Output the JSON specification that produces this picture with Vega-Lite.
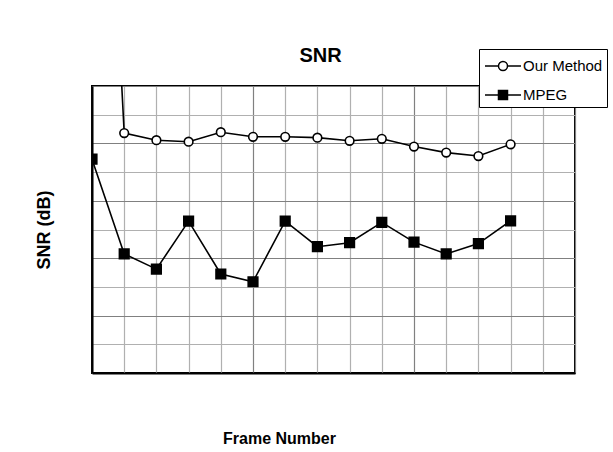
{
  "$schema": "https://vega.github.io/schema/vega-lite/v6.json",
  "width": 483,
  "height": 287,
  "autosize": "none",
  "padding": {"left": 92, "top": 86, "right": 38, "bottom": 79},
  "background": "white",
  "title": {
    "text": "SNR",
    "font": "Liberation Sans",
    "fontSize": 20,
    "fontWeight": "bold",
    "color": "black",
    "anchor": "middle",
    "frame": "group",
    "dx": -13,
    "offset": -17
  },
  "config": {
    "view": {"stroke": "black", "strokeWidth": 2},
    "axis": {
      "domainColor": "black",
      "domainWidth": 2,
      "labels": false,
      "ticks": false,
      "titleColor": "black",
      "titleFont": "Liberation Sans",
      "titleFontWeight": "bold"
    }
  },
  "data": {
    "values": [
      {"frame": 0, "series": "Our Method", "snr": 30},
      {"frame": 1, "series": "Our Method", "snr": 8.36},
      {"frame": 2, "series": "Our Method", "snr": 8.11},
      {"frame": 3, "series": "Our Method", "snr": 8.06},
      {"frame": 4, "series": "Our Method", "snr": 8.39},
      {"frame": 5, "series": "Our Method", "snr": 8.23},
      {"frame": 6, "series": "Our Method", "snr": 8.23},
      {"frame": 7, "series": "Our Method", "snr": 8.2},
      {"frame": 8, "series": "Our Method", "snr": 8.09},
      {"frame": 9, "series": "Our Method", "snr": 8.16},
      {"frame": 10, "series": "Our Method", "snr": 7.89},
      {"frame": 11, "series": "Our Method", "snr": 7.68},
      {"frame": 12, "series": "Our Method", "snr": 7.56},
      {"frame": 13, "series": "Our Method", "snr": 7.97},
      {"frame": 0, "series": "MPEG", "snr": 7.45},
      {"frame": 1, "series": "MPEG", "snr": 4.15},
      {"frame": 2, "series": "MPEG", "snr": 3.62},
      {"frame": 3, "series": "MPEG", "snr": 5.29},
      {"frame": 4, "series": "MPEG", "snr": 3.45},
      {"frame": 5, "series": "MPEG", "snr": 3.18},
      {"frame": 6, "series": "MPEG", "snr": 5.29},
      {"frame": 7, "series": "MPEG", "snr": 4.4},
      {"frame": 8, "series": "MPEG", "snr": 4.54},
      {"frame": 9, "series": "MPEG", "snr": 5.25},
      {"frame": 10, "series": "MPEG", "snr": 4.56},
      {"frame": 11, "series": "MPEG", "snr": 4.15},
      {"frame": 12, "series": "MPEG", "snr": 4.51},
      {"frame": 13, "series": "MPEG", "snr": 5.3}
    ]
  },
  "encoding": {
    "x": {
      "field": "frame",
      "type": "quantitative",
      "scale": {"domain": [0, 15], "nice": false, "zero": false},
      "axis": {
        "title": "Frame Number",
        "titleFontSize": 16,
        "titlePadding": 57,
        "titleX": 187,
        "titleAlign": "center",
        "values": [0,1,2,3,4,5,6,7,8,9,10,11,12,13,14,15],
        "grid": true,
        "gridColor": {"condition": {"test": "datum.value % 5 === 0", "value": "#808080"}, "value": "#b0b0b0"},
        "gridWidth": 1.2
      }
    },
    "y": {
      "field": "snr",
      "type": "quantitative",
      "scale": {"domain": [0, 10], "nice": false, "zero": false},
      "axis": {
        "title": "SNR (dB)",
        "titleFontSize": 18,
        "titlePadding": 39,
        "values": [0,1,2,3,4,5,6,7,8,9,10],
        "grid": true,
        "gridColor": {"condition": {"test": "datum.value % 2 === 0", "value": "#808080"}, "value": "#b0b0b0"},
        "gridWidth": 1.2
      }
    }
  },
  "layer": [
    {
      "mark": {"type": "line", "color": "black", "strokeWidth": 1.6, "clip": true},
      "encoding": {"detail": {"field": "series"}}
    },
    {
      "mark": {"type": "point", "filled": true, "stroke": "black", "strokeWidth": 1.6, "opacity": 1, "clip": true},
      "encoding": {
        "shape": {
          "condition": {"test": "datum.series === 'MPEG'", "value": "square"},
          "value": "circle"
        },
        "fill": {
          "condition": {"test": "datum.series === 'MPEG'", "value": "black"},
          "value": "white"
        },
        "size": {
          "condition": {"test": "datum.series === 'MPEG'", "value": 92},
          "value": 75
        }
      }
    },
    {
      "transform": [{"filter": "datum.frame < 0"}],
      "mark": {"type": "point", "filled": true, "stroke": "black", "strokeWidth": 1.5, "opacity": 1, "clip": true},
      "encoding": {
        "shape": {
          "field": "series",
          "type": "nominal",
          "scale": {
            "domain": ["Our Method", "MPEG"],
            "range": [
              "M-0.917,0L0.208,0M0.958,0L2.083,0M0.208,0A0.375,0.375,0,1,0,0.958,0A0.375,0.375,0,1,0,0.208,0Z",
              "M-0.917,0L2.083,0M0.208,-0.375L0.958,-0.375L0.958,0.375L0.208,0.375ZM0.208,-0.25L0.958,-0.25M0.208,-0.125L0.958,-0.125M0.208,0.125L0.958,0.125M0.208,0.25L0.958,0.25"
            ]
          },
          "legend": {
            "title": null,
            "orient": "none",
            "legendX": 387,
            "legendY": -37,
            "direction": "vertical",
            "strokeColor": "black",
            "fillColor": "white",
            "padding": 4,
            "symbolSize": 576,
            "rowPadding": 8,
            "labelOffset": 14,
            "labelFont": "Liberation Sans",
            "labelFontSize": 15,
            "labelColor": "black"
          }
        },
        "fill": {
          "condition": {"test": "datum.series === 'MPEG'", "value": "black"},
          "value": "white"
        },
        "size": {
          "condition": {"test": "datum.series === 'MPEG'", "value": 92},
          "value": 75
        }
      }
    }
  ]
}
